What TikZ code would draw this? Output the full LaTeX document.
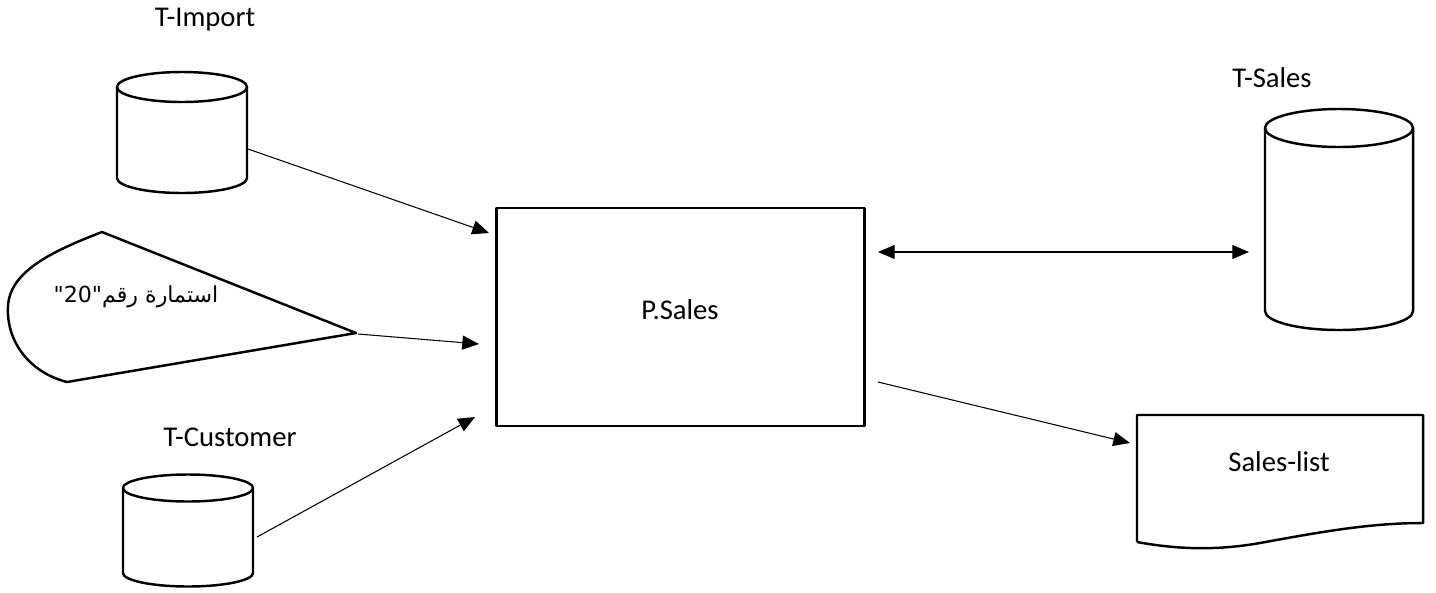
\documentclass[tikz,border=0pt]{standalone}
\usepackage{fontspec}
\setmainfont{Carlito}
\newfontfamily\arabicfont[Script=Arabic]{DejaVu Sans}
\TeXXeTstate=1
\usetikzlibrary{arrows.meta}

\tikzset{
  outline/.style={line width=1.4pt, line join=round},
  tip/.tip={Triangle[length=9.5pt,width=8pt]},
  flow/.style={line width=0.6pt, -tip},
  twoway/.style={line width=0.6pt, tip-tip},
  label/.style={inner sep=0pt, font=\fontsize{16.3}{19}\selectfont}
}

% data store: centre x, half width, top y, bottom y, radius of the ends
\newcommand{\dbstore}[5]{%
  \draw[outline] (#1-#2,#3) -- (#1-#2,#4) arc[start angle=180, end angle=0, x radius=#2, y radius=#5] -- (#1+#2,#3);
  \draw[outline] (#1,#3) ellipse[x radius=#2, y radius=#5];
}

\begin{document}
\begin{tikzpicture}[x=0.02cm, y=-0.02cm]
	\useasboundingbox (0,0) rectangle (1436,592);

	% tables
	\node[label] (timportlbl) at (205,20) {T-Import};
	\dbstore{182}{65}{87}{178}{15}
	\node[label] (tcustlbl) at (230,437) {T-Customer};
	\dbstore{188}{65}{488}{573}{13.5}
	\node[label] (tsaleslbl) at (1272,78) {T-Sales};
	\dbstore{1339}{74}{128}{311}{19}

	% form
	\draw[outline] (102,232) -- (356,333) -- (67,382)
		.. controls (28,372) and (6,340) .. (8,306)
		.. controls (10,272) and (50,252) .. (102,232) -- cycle;
	\node[inner sep=0pt, font=\arabicfont\fontsize{12.6}{15}\selectfont] (form) at (136,297)
		{\beginR استمارة رقم\beginL"20"\endL\endR};

	% process
	\node[outline, draw, rectangle, minimum width=7.36cm, minimum height=4.36cm, inner sep=0pt] (psales) at (680.5,317) {};
	\node[label] (psaleslbl) at (680,310) {P.Sales};

	% report
	\draw[outline] (1137,542) -- (1137,415) -- (1423,415) -- (1423,523)
		.. controls (1370,523) and (1320,532) .. (1260,543)
		.. controls (1215,551) and (1175,549) .. (1137,542);
	\node[label] (saleslist) at (1279,462) {Sales-list};

	% connector ends
	\coordinate (timportout) at (248,149);
	\coordinate (formout) at (358,334);
	\coordinate (tcustout) at (257,537);
	\coordinate (in1) at (489,233);
	\coordinate (in2) at (479,344);
	\coordinate (in3) at (475,417);
	\coordinate (out1) at (878,252);
	\coordinate (tsalesin) at (1249,252);
	\coordinate (out2) at (878,382);
	\coordinate (saleslistin) at (1130,443);

	\draw[flow] (timportout) -- (in1);
	\draw[flow] (formout) -- (in2);
	\draw[flow] (tcustout) -- (in3);
	\draw[twoway] (out1) -- (tsalesin);
	\draw[flow] (out2) -- (saleslistin);
\end{tikzpicture}
\end{document}
